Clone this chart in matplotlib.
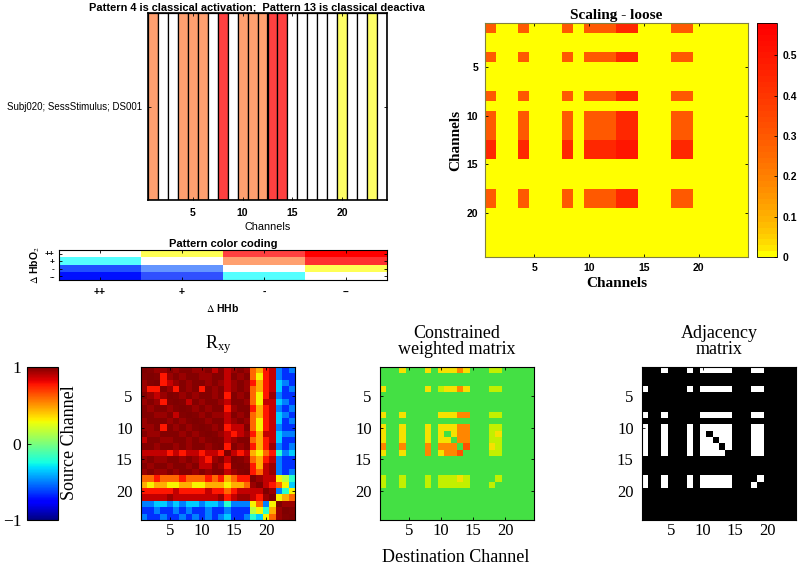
import numpy as np
import matplotlib.pyplot as plt
from matplotlib.colors import ListedColormap, LinearSegmentedColormap, to_rgb

SANS = 'Liberation Sans'
SERIF = 'Liberation Serif'
plt.rcParams['mathtext.fontset'] = 'stix'

# -------------------------------
# Data
# -------------------------------
channels = np.arange(1, 25)
tick_channels = [5, 10, 15, 20]

# pattern of each channel (top-left strip)
SAL, RED, YEL, WHT = '#FFA070', '#FF4040', '#FFFF66', '#FFFFFF'
bar_colors = [SAL, WHT, WHT, SAL, SAL, SAL, WHT, RED, WHT, SAL, SAL, SAL,
              RED, RED, WHT, WHT, WHT, WHT, WHT, YEL, WHT, WHT, YEL, WHT]
bar_title = "Pattern 4 is classical activation;  Pattern 13 is classical deactiva"
bar_ylabel = "Subj020; SessStimulus; DS001"

# pattern colour coding (rows: dHbO2 ++,+,-,-- ; cols: dHHb ++,+,-,--)
code_levels = ['++', '+', '-', '--']
code_colors = [
    ['#FFFFFF', '#FFFF55', '#FF4040', '#FF0000'],
    ['#55FFFF', '#FFFFFF', '#FFA070', '#FF3030'],
    ['#2050FF', '#6495FF', '#FFFFFF', '#FFFF55'],
    ['#0010FF', '#3050FF', '#55FFFF', '#FFFFFF'],
]

# scaling - loose matrix
scal_codes = {'.': 0.0, 'a': 0.30, 'b': 0.44, 'c': 0.50}
scal_rows = [
    "a . . a . . . a . a a a b b . . . a a . . . . .",
    ". . . . . . . . . . . . . . . . . . . . . . . .",
    ". . . . . . . . . . . . . . . . . . . . . . . .",
    "a . . a . . . a . a a a b b . . . a a . . . . .",
    ". . . . . . . . . . . . . . . . . . . . . . . .",
    ". . . . . . . . . . . . . . . . . . . . . . . .",
    ". . . . . . . . . . . . . . . . . . . . . . . .",
    "a . . a . . . a . a a a b b . . . a a . . . . .",
    ". . . . . . . . . . . . . . . . . . . . . . . .",
    "a . . a . . . a . a a a b b . . . a a . . . . .",
    "a . . a . . . a . a a a b b . . . a a . . . . .",
    "a . . a . . . a . a a a b b . . . a a . . . . .",
    "b . . b . . . b . b b b c c . . . b b . . . . .",
    "b . . b . . . b . b b b c c . . . b b . . . . .",
    ". . . . . . . . . . . . . . . . . . . . . . . .",
    ". . . . . . . . . . . . . . . . . . . . . . . .",
    ". . . . . . . . . . . . . . . . . . . . . . . .",
    "a . . a . . . a . a a a b b . . . a a . . . . .",
    "a . . a . . . a . a a a b b . . . a a . . . . .",
    ". . . . . . . . . . . . . . . . . . . . . . . .",
    ". . . . . . . . . . . . . . . . . . . . . . . .",
    ". . . . . . . . . . . . . . . . . . . . . . . .",
    ". . . . . . . . . . . . . . . . . . . . . . . .",
    ". . . . . . . . . . . . . . . . . . . . . . . .",
]
scal_ticks = [0, 0.1, 0.2, 0.3, 0.4, 0.5]
scal_ticklabels = ['0', '0.1', '0.2', '0.3', '0.4', '0.5']

# R_xy correlation matrix
rxy_codes = {'X': 1.0, '9': 0.99, '8': 0.95, '7': 0.88, '6': 0.77, '5': 0.6,
             '4': 0.45, '3': 0.3, '2': 0.15, '1': 0.0, '0': -0.2, 'a': -0.35,
             'b': -0.5, 'c': -0.65, 'd': -0.8}
rxy_rows = [
    "X 9 8 8 9 8 9 9 8 8 9 7 9 7 8 9 8 5 4 6 7 b c b",
    "9 X 9 6 8 9 8 9 9 8 8 9 9 7 9 8 9 5 3 6 7 b c c",
    "8 9 X 6 7 8 9 8 9 9 8 9 8 7 8 9 8 6 4 6 7 a b c",
    "8 6 6 X 8 6 9 8 9 6 9 8 9 7 8 9 8 5 4 6 7 a c b",
    "9 8 7 8 X 9 8 9 8 9 9 8 9 6 9 8 9 5 3 6 8 b c c",
    "8 9 8 6 9 X 9 7 9 8 9 9 8 7 9 9 8 5 3 7 7 a b c",
    "9 8 9 9 8 9 X 9 8 9 8 9 9 6 8 9 9 6 4 6 7 b c b",
    "9 9 8 8 9 7 9 X 9 8 9 8 8 7 9 8 9 5 4 6 7 a b c",
    "8 9 9 9 8 9 8 9 X 9 8 9 9 7 8 9 8 5 3 6 7 a c b",
    "8 8 9 6 9 8 9 8 9 X 9 8 9 6 7 7 9 5 3 6 7 b c c",
    "9 8 8 9 9 9 8 9 8 9 X 9 8 7 6 7 8 6 4 7 7 a b b",
    "7 9 9 8 8 9 9 8 9 8 9 X 9 7 8 9 9 5 4 6 7 a c c",
    "9 9 8 9 9 8 9 8 9 9 8 9 X 6 9 8 9 6 4 6 8 b c b",
    "7 7 7 7 6 7 6 7 7 6 7 7 6 X 7 6 7 4 3 5 6 0 b a",
    "8 9 8 8 9 9 8 9 8 7 6 8 9 7 X 9 8 5 4 6 7 b c c",
    "9 8 9 9 8 9 9 8 9 7 7 9 8 6 9 X 9 6 4 7 8 b c c",
    "8 9 8 8 9 8 9 9 8 9 8 9 9 7 8 9 X 6 5 7 8 b c b",
    "5 5 6 5 5 5 6 5 5 5 6 5 6 4 5 6 6 X 8 7 7 3 2 0",
    "4 3 4 4 3 3 4 4 3 3 4 4 4 3 4 4 5 8 X 7 6 5 3 a",
    "6 6 6 6 6 7 6 6 6 6 7 6 6 5 6 7 7 7 7 X 8 b 0 3",
    "7 7 7 7 8 7 7 7 7 7 7 7 8 6 7 8 8 7 6 8 X 3 4 5",
    "b b a a b a b a a b a a b 0 b b b 3 5 b 3 X 8 8",
    "c c b c c b c b c c b c c b c c c 2 3 0 4 8 X 9",
    "b c c b c c b c b c b c b a c c b 0 a 3 5 8 9 X",
]

# constrained weighted matrix
cw_codes = {'.': 0.0, 'g': 0.15, 'y': 0.3, 'o': 0.5, 'r': 0.62}
cw_rows = [
    ". . . y . . . y . y y y o y . . . g g . . . . .",
    ". . . . . . . . . . . . . . . . . . . . . . . .",
    ". . . . . . . . . . . . . . . . . . . . . . . .",
    "y . . . . . . y . g y y o y . . . g g . . . . .",
    ". . . . . . . . . . . . . . . . . . . . . . . .",
    ". . . . . . . . . . . . . . . . . . . . . . . .",
    ". . . . . . . . . . . . . . . . . . . . . . . .",
    "y . . y . . . . . y y y o o . . . g g . . . . .",
    ". . . . . . . . . . . . . . . . . . . . . . . .",
    "y . . y . . . y . y y y o o . . . g g . . . . .",
    "y . . y . . . y . y . y o o . . . g y . . . . .",
    "y . . y . . . y . y y . o o . . . g g . . . . .",
    "o . . o . . . o . o o o . r . . . y g . . . . .",
    "y . . y . . . o . y o o r . . . . g g . . . . .",
    ". . . . . . . . . . . . . . . . . . . . . . . .",
    ". . . . . . . . . . . . . . . . . . . . . . . .",
    ". . . . . . . . . . . . . . . . . . . . . . . .",
    "g . . g . . . g . g g g y g . . . . g . . . . .",
    "g . . g . . . g . g g g g g . . . g . . . . . .",
    ". . . . . . . . . . . . . . . . . . . . . . . .",
    ". . . . . . . . . . . . . . . . . . . . . . . .",
    ". . . . . . . . . . . . . . . . . . . . . . . .",
    ". . . . . . . . . . . . . . . . . . . . . . . .",
    ". . . . . . . . . . . . . . . . . . . . . . . .",
]

# adjacency matrix
adj_rows = [
    "0 0 0 1 0 0 0 1 0 1 1 1 1 1 0 0 0 1 1 0 0 0 0 0",
    "0 0 0 0 0 0 0 0 0 0 0 0 0 0 0 0 0 0 0 0 0 0 0 0",
    "0 0 0 0 0 0 0 0 0 0 0 0 0 0 0 0 0 0 0 0 0 0 0 0",
    "1 0 0 0 0 0 0 1 0 1 1 1 1 1 0 0 0 1 1 0 0 0 0 0",
    "0 0 0 0 0 0 0 0 0 0 0 0 0 0 0 0 0 0 0 0 0 0 0 0",
    "0 0 0 0 0 0 0 0 0 0 0 0 0 0 0 0 0 0 0 0 0 0 0 0",
    "0 0 0 0 0 0 0 0 0 0 0 0 0 0 0 0 0 0 0 0 0 0 0 0",
    "1 0 0 1 0 0 0 0 0 1 1 1 1 1 0 0 0 1 1 0 0 0 0 0",
    "0 0 0 0 0 0 0 0 0 0 0 0 0 0 0 0 0 0 0 0 0 0 0 0",
    "1 0 0 1 0 0 0 1 0 1 1 1 1 1 0 0 0 1 1 0 0 0 0 0",
    "1 0 0 1 0 0 0 1 0 1 0 1 1 1 0 0 0 1 1 0 0 0 0 0",
    "1 0 0 1 0 0 0 1 0 1 1 0 1 1 0 0 0 1 1 0 0 0 0 0",
    "1 0 0 1 0 0 0 1 0 1 1 1 0 1 0 0 0 1 1 0 0 0 0 0",
    "1 0 0 1 0 0 0 1 0 1 1 1 1 0 0 0 0 1 1 0 0 0 0 0",
    "0 0 0 0 0 0 0 0 0 0 0 0 0 0 0 0 0 0 0 0 0 0 0 0",
    "0 0 0 0 0 0 0 0 0 0 0 0 0 0 0 0 0 0 0 0 0 0 0 0",
    "0 0 0 0 0 0 0 0 0 0 0 0 0 0 0 0 0 0 0 0 0 0 0 0",
    "1 0 0 1 0 0 0 1 0 1 1 1 1 1 0 0 0 0 1 0 0 0 0 0",
    "1 0 0 1 0 0 0 1 0 1 1 1 1 1 0 0 0 1 0 0 0 0 0 0",
    "0 0 0 0 0 0 0 0 0 0 0 0 0 0 0 0 0 0 0 0 0 0 0 0",
    "0 0 0 0 0 0 0 0 0 0 0 0 0 0 0 0 0 0 0 0 0 0 0 0",
    "0 0 0 0 0 0 0 0 0 0 0 0 0 0 0 0 0 0 0 0 0 0 0 0",
    "0 0 0 0 0 0 0 0 0 0 0 0 0 0 0 0 0 0 0 0 0 0 0 0",
    "0 0 0 0 0 0 0 0 0 0 0 0 0 0 0 0 0 0 0 0 0 0 0 0",
]


def decode(rows, table):
    return np.array([[table[t] for t in r.split()] for r in rows], dtype=float)


scal = decode(scal_rows, scal_codes)
rxy = decode(rxy_rows, rxy_codes)
cw = decode(cw_rows, cw_codes)
adj = np.array([[int(t) for t in r.split()] for r in adj_rows], dtype=float)

# -------------------------------
# Figure
# -------------------------------
W, H = 798, 568
fig = plt.figure(figsize=(W / 100, H / 100), dpi=100)


def box(left, top, width, height):
    return fig.add_axes([left / W, 1 - (top + height) / H, width / W, height / H])


def style_ticks(ax, font, size, weight='normal', pad_x=2, pad_y=3):
    ax.tick_params(direction='in', length=2.5, top=True, right=True, width=0.6)
    ax.tick_params(axis='x', pad=pad_x)
    ax.tick_params(axis='y', pad=pad_y)
    for lab in ax.get_xticklabels() + ax.get_yticklabels():
        lab.set_fontfamily(font)
        lab.set_fontsize(size)
        lab.set_fontweight(weight)


# --- top-left: channel pattern strip
ax = box(148, 13, 239, 187)
ax.bar(channels, np.ones(24), width=1, color=bar_colors, edgecolor='black', linewidth=0.9)
ax.set_xlim(0.5, 24.5)
ax.set_ylim(0, 1)
ax.set_xticks(tick_channels)
ax.set_yticks([0.5])
ax.set_yticklabels([bar_ylabel])
style_ticks(ax, SANS, 7, pad_x=6, pad_y=4)
for lab in ax.get_xticklabels():
    lab.set_fontweight('bold')
    lab.set_fontsize(7.5)
ax.set_xlabel('Channels', fontfamily=SANS, fontsize=7.8, labelpad=3)
for s in ax.spines.values():
    s.set_linewidth(1.2)
fig.text(89 / W, 1 - 10 / H, bar_title, ha='left', va='baseline',
         fontfamily=SANS, fontsize=7.9, fontweight='bold')

# --- pattern colour coding
ax = box(59, 250, 328, 30)
rgb = np.array([[to_rgb(c) for c in row] for row in code_colors])
ax.imshow(rgb, aspect='auto', interpolation='nearest')
ax.set_xticks(range(4))
ax.set_xticklabels(code_levels)
ax.set_yticks(range(4))
ax.set_yticklabels(code_levels)
style_ticks(ax, SANS, 7.5, 'bold', pad_x=5, pad_y=3)
for lab in ax.get_yticklabels():
    lab.set_fontsize(6)
ax.set_title('Pattern color coding', fontfamily=SANS, fontsize=8, fontweight='bold', pad=2)
ax.set_xlabel(r'$\Delta$ HHb', fontfamily=SANS, fontsize=7.5, fontweight='bold', labelpad=4)
ax.set_ylabel(r'$\Delta$ HbO$_2$', fontfamily=SANS, fontsize=7.5, fontweight='bold', labelpad=2)

# --- scaling - loose
t = np.linspace(0, 1, 40)
scal_cmap = ListedColormap(np.column_stack([np.ones_like(t), 1 - t ** 0.65, np.zeros_like(t)]))
ax = box(485, 23, 263, 234)
im = ax.imshow(scal, cmap=scal_cmap, vmin=0, vmax=0.58, aspect='auto',
               interpolation='nearest', extent=(0.5, 24.5, 24.5, 0.5))
ax.set_xticks(tick_channels)
ax.set_yticks(tick_channels)
style_ticks(ax, SANS, 7.5, 'bold', pad_x=4, pad_y=5)
ax.set_title('Scaling - loose', fontfamily=SERIF, fontsize=11, fontweight='bold', pad=3)
ax.set_xlabel('Channels', fontfamily=SERIF, fontsize=11, fontweight='bold', labelpad=3)
ax.set_ylabel('Channels', fontfamily=SERIF, fontsize=11, fontweight='bold', labelpad=3)
for s in ax.spines.values():
    s.set_color('#808040')
cax = box(757, 23, 20, 234)
cb = fig.colorbar(im, cax=cax, ticks=scal_ticks)
cb.ax.set_yticklabels(scal_ticklabels)
cb.ax.tick_params(direction='in', length=2, width=0.6, pad=4)
for lab in cb.ax.get_yticklabels():
    lab.set_fontfamily(SANS)
    lab.set_fontsize(7.5)
    lab.set_fontweight('bold')
cb.outline.set_linewidth(0.6)

# --- bottom row
jet = plt.get_cmap('jet')
cw_cmap = LinearSegmentedColormap.from_list(
    'cw', [(0.0, '#44E044'), (0.2, '#B8F000'), (0.43, '#F5F000'),
           (0.72, '#FFA000'), (1.0, '#FF5000')])

cax = box(27, 367, 31, 153)
sm = plt.cm.ScalarMappable(cmap=jet, norm=plt.Normalize(-1, 1))
cb = fig.colorbar(sm, cax=cax, ticks=[-1, 0, 1])
cb.ax.yaxis.set_ticks_position('left')
cb.ax.set_yticklabels(['\u22121', '0', '1'])
cb.ax.tick_params(direction='in', length=3, width=0.6, pad=4)
for lab in cb.ax.get_yticklabels():
    lab.set_fontfamily(SERIF)
    lab.set_fontsize(12.5)
cb.outline.set_linewidth(0.8)
fig.text(70 / W, 1 - 443 / H, 'Source Channel', rotation=90, ha='center', va='center',
         fontfamily=SERIF, fontsize=13)

panels = [
    (141, rxy, jet, -1, 1, r'R$_{\mathregular{xy}}$', 13),
    (380, cw, cw_cmap, 0, 0.62, 'Constrained\nweighted matrix', 9),
    (642, adj, 'gray', 0, 1, 'Adjacency\nmatrix', 9),
]
for left, mat, cmap, lo, hi, title, pad in panels:
    ax = box(left, 367, 154, 153)
    ax.imshow(mat, cmap=cmap, vmin=lo, vmax=hi, aspect='auto',
              interpolation='nearest', extent=(0.5, 24.5, 24.5, 0.5))
    ax.set_xticks(tick_channels)
    ax.set_yticks(tick_channels)
    style_ticks(ax, SERIF, 12, pad_x=2, pad_y=6)
    ax.set_title(title, fontfamily=SERIF, fontsize=13, pad=pad, linespacing=1.0)
    for s in ax.spines.values():
        s.set_linewidth(0.8)

fig.text(456 / W, 1 - 558 / H, 'Destination Channel', ha='center', va='center',
         fontfamily=SERIF, fontsize=13)

fig.savefig('out.png', dpi=100)
